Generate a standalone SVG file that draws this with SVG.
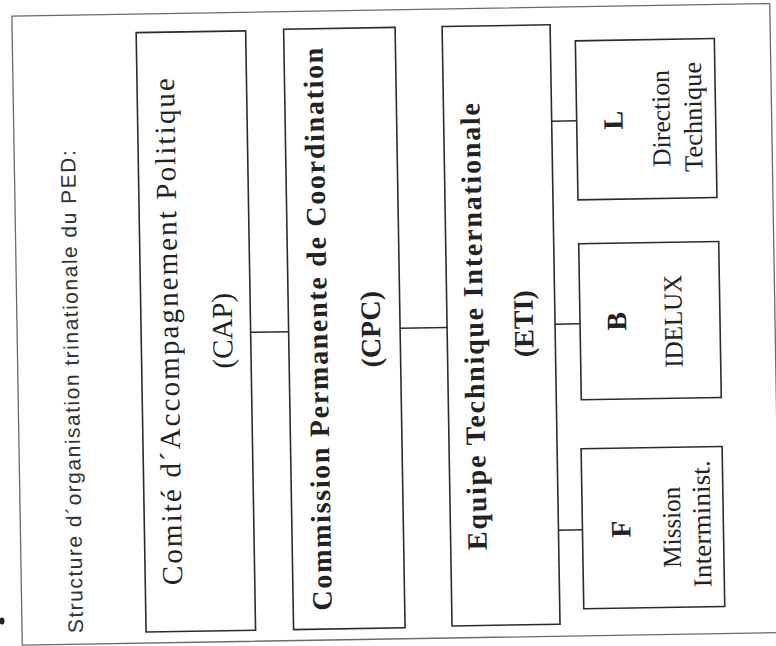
<svg xmlns="http://www.w3.org/2000/svg" width="776" height="646" viewBox="0 0 776 646">
<style>
.frame{fill:none;stroke:#6a6a6a;stroke-width:1.3}
.box{fill:#fff;stroke:#2b2b2b;stroke-width:1.6}
.conn{fill:none;stroke:#2b2b2b;stroke-width:1.5}
.t{fill:#222;font-family:"Liberation Serif","Times New Roman",serif;text-anchor:middle}
.cap{font-size:29px}
.bold{font-size:28px;font-weight:bold}
.small{font-size:26px}
.letter{font-size:28px;font-weight:bold}
.title{fill:#333;font-family:"Liberation Sans",Arial,sans-serif;font-size:21px;text-anchor:middle}
</style>
<rect width="776" height="646" fill="#fff"/>
<ellipse cx="2" cy="621" rx="2.5" ry="3.5" fill="#222"/>
<g transform="rotate(-0.95 388 323)">
  <rect class="frame" x="17" y="10" width="758" height="629"/>
  <text class="title" transform="translate(78,386.5) rotate(-90)" textLength="483" lengthAdjust="spacing">Structure d´organisation trinationale du PED:</text>

  <g id="connectors">
    <line class="conn" x1="250.5" y1="330" x2="288.5" y2="330"/>
    <line class="conn" x1="400" y1="328.5" x2="447" y2="328.5"/>
    <line class="conn" x1="555" y1="124" x2="580" y2="124"/>
    <line class="conn" x1="555" y1="327" x2="580" y2="327"/>
    <line class="conn" x1="555" y1="533" x2="579" y2="533"/>
  </g>

  <g id="cap">
    <rect class="box" x="141" y="28.5" width="109.5" height="599.5"/>
    <text class="t cap" transform="translate(178,328) rotate(-90)" textLength="507" lengthAdjust="spacing">Comité d´Accompagnement Politique</text>
    <text class="t cap" transform="translate(232,328) rotate(-90)">(CAP)</text>
  </g>

  <g id="cpc">
    <rect class="box" x="288.5" y="27.5" width="111.5" height="600.5"/>
    <text class="t bold" transform="translate(327,328) rotate(-90)" textLength="563" lengthAdjust="spacing">Commission Permanente de Coordination</text>
    <text class="t bold" transform="translate(380,329) rotate(-90)">(CPC)</text>
  </g>

  <g id="eti">
    <rect class="box" x="447" y="27.5" width="108" height="599.5"/>
    <text class="t bold" transform="translate(483,328) rotate(-90)" textLength="447" lengthAdjust="spacing">Equipe Technique Internationale</text>
    <text class="t bold" transform="translate(533,326) rotate(-90)">(ETI)</text>
  </g>

  <g id="l">
    <rect class="box" x="580" y="44" width="139" height="159"/>
    <text class="t letter" transform="translate(626,124) rotate(-90)">L</text>
    <text class="t small" transform="translate(673,123) rotate(-90)" textLength="97" lengthAdjust="spacingAndGlyphs">Direction</text>
    <text class="t small" transform="translate(705,122) rotate(-90)" textLength="110" lengthAdjust="spacingAndGlyphs">Technique</text>
  </g>

  <g id="b">
    <rect class="box" x="580" y="247" width="140" height="156"/>
    <text class="t letter" transform="translate(626,325) rotate(-90)">B</text>
    <text class="t small" transform="translate(682,326) rotate(-90)" textLength="93" lengthAdjust="spacingAndGlyphs">IDELUX</text>
  </g>

  <g id="f">
    <rect class="box" x="579" y="452" width="141" height="160"/>
    <text class="t letter" transform="translate(627,533) rotate(-90)">F</text>
    <text class="t small" transform="translate(677,532) rotate(-90)" textLength="81" lengthAdjust="spacingAndGlyphs">Mission</text>
    <text class="t small" transform="translate(707,529) rotate(-90)" textLength="127" lengthAdjust="spacingAndGlyphs">Interminist.</text>
  </g>
</g>
</svg>
